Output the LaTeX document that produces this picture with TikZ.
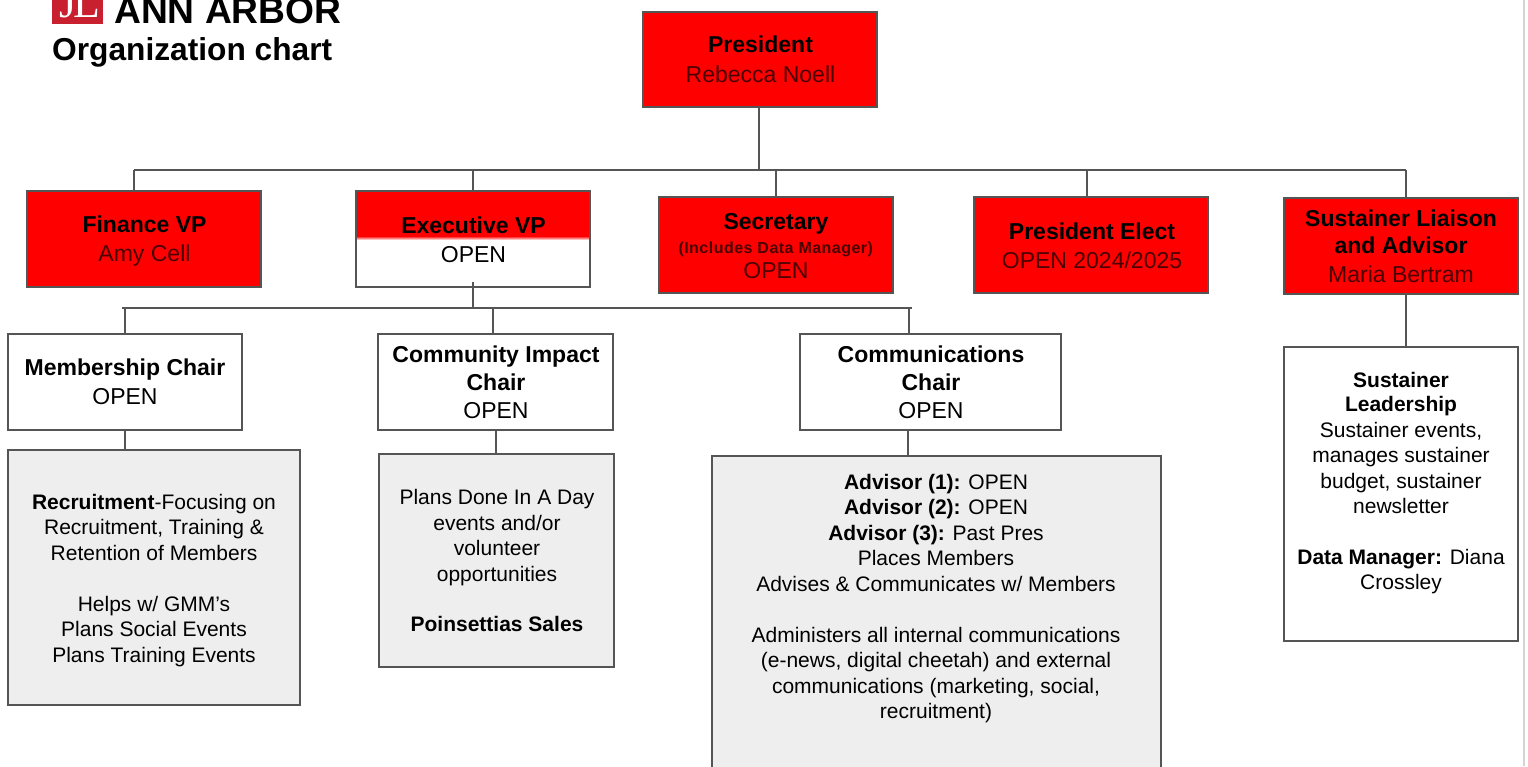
\documentclass[tikz,border=0pt]{standalone}
\usepackage{fontspec}
\setmainfont{Liberation Sans}
\newfontfamily\logofont{Liberation Serif}
\newcommand{\fz}[2]{\fontsize{#1}{#2}\selectfont}
\definecolor{edgec}{HTML}{555555}
\definecolor{panel}{HTML}{EEEEEE}
\definecolor{ontext}{HTML}{4A0000}
\definecolor{logored}{HTML}{C8202F}
\tikzset{
  redbox/.style={draw=edgec,line width=1.7pt,inner sep=0pt,fill=red,minimum width=234pt,minimum height=96pt},
  whitebox/.style={draw=edgec,line width=1.7pt,inner sep=0pt,fill=white},
  greybox/.style={draw=edgec,line width=1.7pt,inner sep=0pt,fill=panel},
  conn/.style={draw=edgec,line width=1.7pt},
  label/.style={inner sep=0pt,align=center,font=\fz{23}{28.5},text=black},
  desc/.style={inner sep=0pt,align=center,font=\fz{21}{25.5},text=black},
}
\begin{document}
\begin{tikzpicture}[x=1pt,y=-1pt]
\useasboundingbox (0,0) rectangle (1528,766);
\clip (0,0) rectangle (1528,766);
\fill[white] (0,0) rectangle (1528,766);
\draw[line width=2pt,draw=black!17] (1524,0) -- (1524,766);

% logo and title
\node[fill=logored,minimum width=51pt,minimum height=40pt,inner sep=0pt,anchor=south west] (logo) at (52,24) {};
\node[inner sep=0pt,font=\fz{44}{44}\logofont,text=white,anchor=base west] (jl) at (59,17) {J\kern-3pt L};
\node[inner sep=0pt,font=\fz{37.2}{38}\bfseries,anchor=base west] (ann) at (114,23) {ANN ARBOR};
\node[inner sep=0pt,font=\fz{31.7}{36}\bfseries,anchor=base west] (org) at (52,60) {Organization chart};

% top row
\node[redbox,minimum height=95pt] (pres) at (760,59.5) {};
\node[redbox] (fin) at (144,239) {};
\node[redbox,fill=white,
      path picture={\fill[red] (path picture bounding box.north west) rectangle ([yshift=-45pt]path picture bounding box.north east);
                    \shade[top color=red,bottom color=white] ([yshift=-45pt]path picture bounding box.north west) rectangle ([yshift=-49pt]path picture bounding box.north east);}] (exec) at (473,239) {};
\node[redbox] (sec) at (776,245) {};
\node[redbox] (elect) at (1091,245) {};
\node[redbox] (liais) at (1401,246) {};

% second row
\node[whitebox,minimum width=234pt,minimum height=96pt] (memb) at (125,382) {};
\node[whitebox,minimum width=235pt,minimum height=96pt] (comm) at (495.5,382) {};
\node[whitebox,minimum width=261pt,minimum height=96pt] (cchair) at (930.5,382) {};

% panels
\node[greybox,minimum width=292pt,minimum height=255pt] (recr) at (154,577.5) {};
\node[greybox,minimum width=235pt,minimum height=213pt] (plans) at (496.5,560.5) {};
\node[greybox,minimum width=449pt,minimum height=320pt] (advis) at (936.5,616) {};
\node[whitebox,minimum width=234pt,minimum height=294pt] (lead) at (1401,494) {};

% connectors
\coordinate (busL) at (134,170);
\coordinate (busR) at (1406,170);
\coordinate (dropB) at (473,170);
\coordinate (dropC) at (776,170);
\coordinate (dropD) at (1087,170);
\coordinate (subL) at (122,308);
\coordinate (subR) at (912,308);
\coordinate (subA) at (125,308);
\coordinate (subB) at (493,308);
\coordinate (subC) at (909,308);
\coordinate (execOut) at (473,282);
\coordinate (presOut) at (759,107);
\coordinate (liaisOut) at (1406,294);
\coordinate (membOut) at (125,430);
\coordinate (commOut) at (496,430);
\coordinate (cchairOut) at (908,430);
\draw[conn] (presOut) -- (presOut |- busL);
\draw[conn] (busL) -- (busR);
\draw[conn] (busL) -- (busL |- fin.north);
\draw[conn] (dropB) -- (dropB |- exec.north);
\draw[conn] (dropC) -- (dropC |- sec.north);
\draw[conn] (dropD) -- (dropD |- elect.north);
\draw[conn] (busR) -- (busR |- liais.north);
\draw[conn] (execOut) -- (execOut |- subL);
\draw[conn] (subL) -- (subR);
\draw[conn] (subA) -- (subA |- memb.north);
\draw[conn] (subB) -- (subB |- comm.north);
\draw[conn] (subC) -- (subC |- cchair.north);
\draw[conn] (membOut) -- (membOut |- recr.north);
\draw[conn] (commOut) -- (commOut |- plans.north);
\draw[conn] (cchairOut) -- (cchairOut |- advis.north);
\draw[conn] (liaisOut) -- (liaisOut |- lead.north);

% texts
\node[label] (tpres) at (760.5,59.5) {\textbf{President}\\[1pt]\textcolor{ontext}{Rebecca Noell}};
\node[label] (tfin) at (144.5,241) {\textbf{Finance VP}\\\textcolor{ontext}{Amy Cell}};
\node[label] (texec) at (473.5,240) {\textbf{Executive VP}\\OPEN};
\node[inner sep=0pt,align=center] (tsec) at (776,246)
  {\fz{23}{23}\textbf{Secretary}\\[7pt]\fz{16}{23}\addfontfeature{LetterSpace=3}\textcolor{ontext}{\textbf{(Includes Data Manager)}}\\[5pt]\fz{23}{23}\textcolor{ontext}{OPEN}};
\node[label] (telect) at (1092,246) {\textbf{President Elect}\\\textcolor{ontext}{OPEN 2024/2025}};
\node[label] (tliais) at (1401,246) {\textbf{Sustainer Liaison}\\[-1pt]\textbf{and Advisor}\\\textcolor{ontext}{Maria Bertram}};
\node[label] (tmemb) at (125,382) {\textbf{Membership Chair}\\OPEN};
\node[label] (tcomm) at (496,382.3) {\textbf{Community Impact}\\[-1pt]\textbf{Chair}\\OPEN};
\node[label] (tcchair) at (931,382.3) {\textbf{Communications}\\[-1pt]\textbf{Chair}\\OPEN};
\node[desc] (trecr) at (154,580.5) {\textbf{Recruitment}-Focusing on\\Recruitment, Training \&\\Retention of Members\\[25.5pt]Helps w/ GMM’s\\Plans Social Events\\Plans Training Events};
\node[desc] (tplans) at (497,560.5) {Plans Done In A Day\\events and/or\\volunteer\\opportunities\\[24.5pt]\textbf{Poinsettias Sales}};
\node[desc] (tadvis) at (936,598.5) {\textbf{Advisor (1):} OPEN\\\textbf{Advisor (2):} OPEN\\\textbf{Advisor (3):} Past Pres\\Places Members\\Advises \& Communicates w/ Members\\[25.5pt]Administers all internal communications\\(e-news, digital cheetah) and external\\communications (marketing, social,\\recruitment)};
\node[desc] (tlead) at (1401,483) {\textbf{Sustainer}\\[-1pt]\textbf{Leadership}\\Sustainer events,\\manages sustainer\\budget, sustainer\\newsletter\\[25pt]\textbf{Data Manager:} Diana\\Crossley};
\end{tikzpicture}
\end{document}
